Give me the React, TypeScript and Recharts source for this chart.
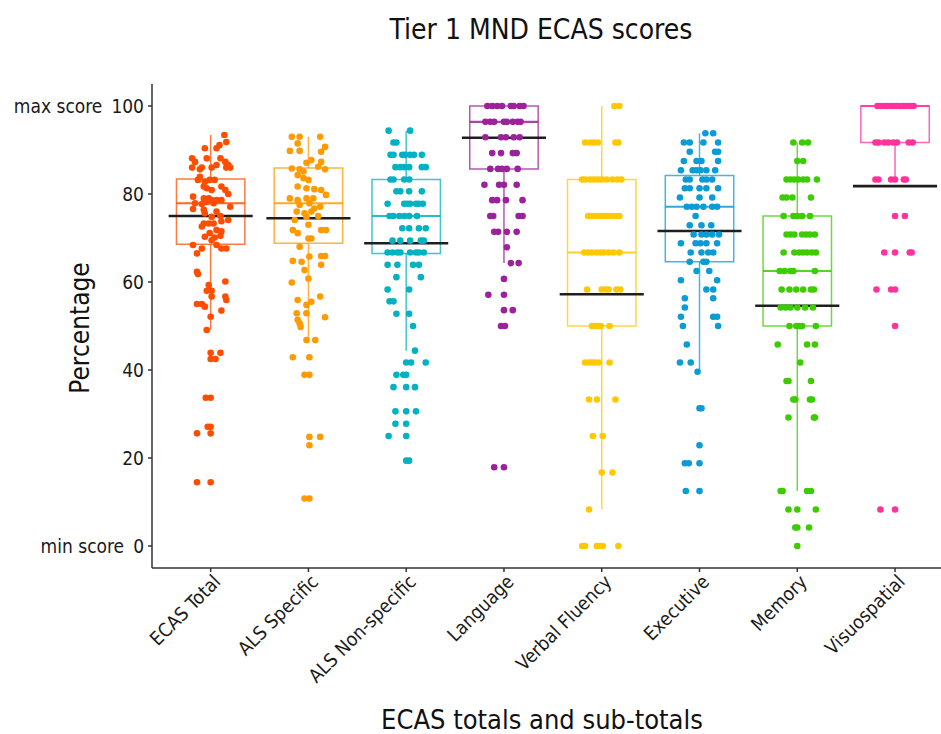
import { ComposedChart, Scatter, XAxis, YAxis, ReferenceArea, ReferenceLine } from "recharts";

const FONT = "'DejaVu Sans Condensed', 'DejaVu Sans', sans-serif";

const categories = [
  "ECAS Total",
  "ALS Specific",
  "ALS Non-specific",
  "Language",
  "Verbal Fluency",
  "Executive",
  "Memory",
  "Visuospatial",
];

const colors = ["#ff4d00", "#ff9a00", "#00b2c2", "#9b229b", "#ffc800", "#0b9bd5", "#3ccc00", "#ff3399"];

// box statistics per category
const q1 = [68.6, 68.8, 66.5, 85.7, 50.0, 64.6, 50.0, 91.7];
const medians = [77.9, 77.9, 75.0, 96.4, 66.7, 77.1, 62.5, 100];
const q3 = [83.4, 85.9, 83.3, 100, 83.3, 84.2, 75.0, 100];
const whiskerLow = [49.1, 46.8, 44.4, 64.3, 8.3, 39.6, 12.5, 83.3];
const whiskerHigh = [93.4, 93.0, 94.4, 100, 100, 93.8, 91.7, 100];
const means = [75.0, 74.5, 68.8, 92.8, 57.2, 71.6, 54.6, 81.8];

const yTicks = [0, 20, 40, 60, 80, 100];
const yTickNotes: Record<number, string> = { 100: "max score", 0: "min score" };

type Pt = [number, number]; // [jitter offset, score]
type Row = [number, number[]]; // [score, jitter offsets]

const ecasTotalPts: Pt[] = [
  [0.14, 93.4], [0.16, 91.8], [0.09, 91.1], [0.06, 90.4], [-0.06, 90.4], [-0.04, 88.1], [-0.19, 88.1],
  [-0.16, 87.3], [0.1, 88.1], [0.15, 87.3], [0.18, 86.6], [0.2, 86.0], [-0.19, 86.0], [-0.11, 85.6],
  [-0.09, 86.0], [0.01, 86.0], [0.06, 86.6], [0.16, 86.0], [-0.11, 83.9], [-0.13, 83.2], [-0.01, 83.2],
  [-0.06, 82.8], [0.04, 83.2], [-0.07, 81.7], [-0.04, 81.3], [0.01, 80.9], [0.11, 81.7], [0.15, 80.9],
  [0.18, 80.0], [-0.18, 79.4], [-0.07, 79.0], [-0.02, 79.0], [0.01, 78.6], [0.06, 78.6], [0.11, 78.6],
  [-0.16, 77.9], [-0.09, 77.7], [-0.04, 78.2], [0.03, 77.9], [0.2, 77.1], [-0.18, 76.6], [-0.07, 76.4],
  [0.06, 76.0], [-0.06, 75.6], [0.01, 74.8], [0.1, 75.0], [-0.07, 73.3], [-0.02, 73.3], [0.03, 73.3],
  [0.11, 73.8], [0.18, 74.1], [-0.09, 72.6], [0.06, 71.8], [0.11, 71.5], [-0.01, 71.1], [-0.06, 70.3],
  [0.04, 70.1], [0.1, 70.5], [0.01, 69.5], [0.06, 68.4], [0.11, 67.6], [0.16, 67.6], [-0.18, 68.4],
  [-0.09, 67.6], [-0.14, 66.5], [-0.14, 62.3], [-0.13, 61.8], [0.15, 60.1], [-0.02, 59.3], [-0.04, 58.0],
  [0.01, 58.0], [0.01, 56.7], [0.15, 56.7], [-0.14, 55.0], [-0.09, 55.0], [-0.06, 54.4], [0.16, 55.9],
  [0.11, 53.5], [0.0, 52.1], [-0.04, 49.1], [0.0, 43.9], [0.1, 43.9], [0.0, 42.5], [0.05, 42.5],
  [-0.05, 33.7], [0.0, 33.7], [-0.03, 27.1], [0.0, 27.1], [-0.14, 25.6], [0.0, 25.6], [-0.14, 14.5],
  [0.0, 14.5],
];

const alsSpecificPts: Pt[] = [
  [-0.17, 93.0], [-0.09, 93.0], [0.12, 93.0], [-0.11, 91.5], [0.17, 90.7], [-0.19, 89.8], [-0.09, 89.8],
  [0.13, 89.6], [0.03, 87.7], [-0.02, 87.1], [0.13, 87.3], [0.1, 86.2], [-0.17, 85.8], [-0.09, 85.6],
  [-0.05, 85.1], [0.17, 85.6], [-0.11, 84.3], [-0.05, 83.6], [0.0, 83.2], [-0.11, 81.7], [-0.02, 81.3],
  [0.06, 81.1], [0.13, 80.9], [0.18, 79.8], [-0.19, 79.0], [-0.11, 78.6], [-0.02, 79.0], [0.05, 79.0],
  [-0.09, 77.5], [0.01, 77.9], [0.12, 77.1], [-0.12, 76.0], [-0.04, 75.6], [0.03, 76.0], [0.06, 76.7],
  [-0.14, 74.1], [-0.02, 74.8], [0.1, 75.0], [0.0, 73.0], [-0.16, 71.8], [-0.11, 71.1], [0.13, 71.8],
  [0.18, 71.8], [0.0, 69.9], [0.03, 69.9], [-0.09, 68.0], [0.01, 65.8], [0.13, 65.9], [0.17, 65.9],
  [-0.16, 64.8], [-0.07, 64.6], [0.13, 63.9], [-0.04, 62.7], [0.0, 60.8], [-0.17, 59.9], [0.12, 56.7],
  [-0.11, 55.9], [-0.02, 54.8], [0.03, 55.5], [-0.12, 52.9], [-0.02, 52.9], [0.17, 52.0], [-0.11, 51.4],
  [-0.09, 50.6], [-0.08, 49.8], [-0.02, 46.8], [0.07, 46.8], [-0.16, 42.9], [0.01, 42.9], [-0.04, 38.9],
  [0.01, 38.9], [0.01, 24.8], [0.12, 24.8], [0.01, 22.9], [-0.04, 10.8], [0.01, 10.8],
];

const alsNonSpecificRows: Row[] = [
  [94.4, [-0.18, 0.04]],
  [91.7, [-0.13, -0.1]],
  [88.9, [-0.16, -0.13, -0.04, -0.01, 0.04, 0.08, 0.16]],
  [86.1, [-0.11, -0.06, -0.02, 0.03, 0.16, 0.2]],
  [83.3, [-0.16, -0.13, -0.02, 0.03]],
  [80.6, [-0.1, -0.06, 0.03, 0.16]],
  [77.8, [-0.19, -0.02, 0.01, 0.04, 0.1, 0.13, 0.17]],
  [75.0, [-0.17, -0.13, -0.07, -0.02, 0.03, 0.11]],
  [72.2, [-0.04, 0.03, 0.13, 0.2]],
  [69.4, [-0.14, -0.06, 0.04, 0.15, 0.18]],
  [66.7, [-0.19, -0.14, -0.09, -0.06, 0.04, 0.1, 0.13, 0.18]],
  [63.9, [-0.19, -0.09, 0.07, 0.13]],
  [61.1, [-0.1, 0.15]],
  [58.3, [-0.19, 0.03]],
  [55.6, [-0.17, -0.13]],
  [52.8, [-0.1, 0.03]],
  [50.0, [0.07]],
  [44.4, [0.09]],
  [41.7, [0.0, 0.05, 0.2]],
  [38.9, [-0.1, -0.03, 0.0]],
  [36.1, [-0.13, 0.0, 0.09]],
  [30.6, [-0.11, 0.0, 0.1]],
  [27.8, [-0.11, 0.0]],
  [25.0, [-0.18, 0.0]],
  [19.4, [0.0, 0.03]],
];

const languageRows: Row[] = [
  [100, [-0.17, -0.12, -0.07, -0.02, 0.07, 0.1, 0.16, 0.2]],
  [96.4, [-0.19, -0.14, -0.1, 0.0, 0.03, 0.09, 0.14, 0.17]],
  [92.9, [-0.19, -0.03, 0.02, 0.1, 0.16]],
  [89.3, [-0.12, -0.03, 0.09, 0.13]],
  [85.7, [-0.14, -0.06, -0.02, 0.03, 0.14]],
  [82.1, [-0.2, -0.05, 0.0, 0.13]],
  [78.6, [-0.12, -0.07, 0.02, 0.19]],
  [75.0, [-0.14, -0.11, 0.15, 0.19]],
  [71.4, [-0.1, -0.06, 0.03, 0.13]],
  [67.9, [0.03]],
  [64.3, [0.07, 0.15]],
  [60.7, [0.0]],
  [57.1, [-0.16, 0.0]],
  [53.6, [0.0, 0.09]],
  [50.0, [-0.03, 0.01]],
  [17.9, [-0.1, 0.0]],
];

const verbalFluencyRows: Row[] = [
  [100, [0.13, 0.18]],
  [91.7, [-0.17, -0.12, -0.08, -0.04, 0.14, 0.17]],
  [83.3, [-0.2, -0.17, -0.12, -0.08, -0.04, 0.0, 0.05, 0.11, 0.16, 0.2]],
  [75.0, [-0.14, -0.11, -0.07, -0.04, -0.01, 0.03, 0.06, 0.1, 0.14, 0.18]],
  [66.7, [-0.18, -0.14, -0.1, -0.05, -0.01, 0.02, 0.07, 0.12, 0.18]],
  [58.3, [-0.15, 0.0, 0.04, 0.07, 0.15, 0.19]],
  [50.0, [-0.1, -0.07, -0.04, -0.01, 0.08]],
  [41.7, [-0.17, -0.13, -0.1, -0.07, -0.03, 0.08]],
  [33.3, [-0.13, -0.05, 0.14]],
  [25.0, [-0.09, 0.01]],
  [16.7, [0.0, 0.11]],
  [8.3, [-0.13]],
  [0, [-0.2, -0.17, -0.05, -0.01, 0.01, 0.17]],
];

const executiveRows: Row[] = [
  [93.8, [0.06, 0.14]],
  [91.7, [-0.16, -0.1, 0.04, 0.19]],
  [89.6, [-0.1, 0.16, 0.19]],
  [87.5, [-0.16, -0.03, 0.02, 0.19]],
  [85.4, [-0.19, -0.07, -0.03, 0.01, 0.07, 0.16]],
  [83.3, [-0.14, -0.1, 0.03, 0.07, 0.13]],
  [81.3, [-0.15, -0.1, 0.0, 0.07, 0.19]],
  [79.2, [-0.2, 0.0, 0.13]],
  [77.1, [-0.13, -0.08, -0.03, 0.04, 0.13, 0.18]],
  [75.0, [-0.04]],
  [72.9, [-0.1, 0.02, 0.12]],
  [70.8, [-0.06, 0.02, 0.07, 0.13, 0.2]],
  [68.8, [-0.19, -0.04, 0.01, 0.07, 0.18]],
  [66.7, [-0.09, 0.02, 0.09, 0.14]],
  [64.6, [-0.1, 0.04, 0.07]],
  [62.5, [-0.03, 0.1]],
  [60.4, [-0.19, 0.18]],
  [58.3, [0.07, 0.14]],
  [56.3, [-0.15, 0.14]],
  [54.2, [-0.15]],
  [52.1, [-0.19, 0.14, 0.18]],
  [50.0, [-0.17, 0.19]],
  [45.8, [-0.13]],
  [41.7, [-0.2, -0.09]],
  [39.6, [-0.02]],
  [31.3, [0.0, 0.02]],
  [22.9, [0.0]],
  [18.8, [-0.15, -0.11, 0.0]],
  [12.5, [-0.14, 0.0]],
];

const memoryRows: Row[] = [
  [91.7, [-0.04, 0.05, 0.11]],
  [87.5, [0.0, 0.06]],
  [83.3, [-0.11, -0.07, -0.03, 0.01, 0.06, 0.1, 0.2]],
  [79.2, [-0.15, -0.11, -0.05, 0.14]],
  [75.0, [-0.14, -0.04, 0.0, 0.05, 0.13]],
  [70.8, [-0.11, -0.07, -0.03, 0.05, 0.09, 0.13, 0.18]],
  [66.7, [-0.14, -0.03, 0.02, 0.06, 0.1, 0.15, 0.19]],
  [62.5, [-0.18, -0.13, -0.07, -0.04, 0.18]],
  [58.3, [-0.16, -0.08, -0.01, 0.06, 0.14, 0.17]],
  [54.2, [-0.17, -0.12, -0.07, 0.0, 0.08, 0.16]],
  [50.0, [-0.08, -0.01, 0.02, 0.05, 0.19]],
  [45.8, [-0.2, 0.1, 0.18]],
  [41.7, [0.03]],
  [37.5, [-0.11, -0.09, 0.14]],
  [33.3, [-0.04, -0.02, 0.13, 0.15]],
  [29.2, [-0.09, 0.17, 0.18]],
  [12.5, [-0.17, -0.15, 0.1, 0.14]],
  [8.3, [-0.09, 0.0, 0.19]],
  [4.2, [-0.02, 0.0, 0.12]],
  [0, [0.0]],
];

const visuospatialRows: Row[] = [
  [100, [-0.18, -0.15, -0.11, -0.08, -0.04, -0.01, 0.02, 0.06, 0.09, 0.12, 0.16, 0.19]],
  [91.7, [-0.2, -0.17, -0.11, -0.07, -0.02, 0.02, 0.14, 0.18]],
  [83.3, [-0.2, -0.17, -0.04, 0.0, 0.09, 0.11]],
  [75.0, [0.0, 0.1]],
  [66.7, [-0.11, 0.0, 0.15, 0.17]],
  [58.3, [-0.19, -0.04, 0.0]],
  [50.0, [0.0]],
  [8.3, [-0.15, 0.0]],
];

const fromRows = (rows: Row[]): Pt[] => rows.flatMap(([v, offs]) => offs.map((dx) => [dx, v] as Pt));

const groups: Pt[][] = [
  ecasTotalPts,
  alsSpecificPts,
  fromRows(alsNonSpecificRows),
  fromRows(languageRows),
  fromRows(verbalFluencyRows),
  fromRows(executiveRows),
  fromRows(memoryRows),
  fromRows(visuospatialRows),
];

const BOX_HALF = 0.35;
const MEAN_HALF = 0.43;
const AXIS = "#333";

const YTick = ({ x, y, payload }: any) => {
  const note = yTickNotes[payload.value];
  return (
    <text x={x} y={y} dy="0.36em" textAnchor="end" fontSize={19} fill="#1a1a1a" fontFamily={FONT}>
      {note && <tspan>{note}</tspan>}
      <tspan dx={note ? 9 : 0}>{payload.value}</tspan>
    </text>
  );
};

const XTick = ({ x, y, payload }: any) => {
  const px = x + 11;
  const py = y + 9;
  return (
    <text x={px} y={py} textAnchor="end" fontSize={19} fill="#1a1a1a" fontFamily={FONT} transform={`rotate(-45 ${px} ${py})`}>
      {categories[payload.value - 1]}
    </text>
  );
};

const Dot = ({ cx, cy, fill }: any) => <circle cx={cx} cy={cy} r={3.3} fill={fill} />;

export default function App() {
  return (
    <div style={{ position: "absolute", left: 0, top: 0, width: 941, height: 734, background: "#fff", fontFamily: FONT, color: "#111", overflow: "hidden" }}>
      <div style={{ position: "absolute", left: 141, width: 800, top: 12, textAlign: "center", fontSize: 28, lineHeight: "36px" }}>
        Tier 1 MND ECAS scores
      </div>
      <div
        style={{
          position: "absolute",
          left: 80,
          top: 328,
          transform: "translate(-50%, -50%) rotate(-90deg)",
          fontSize: 26,
          whiteSpace: "nowrap",
        }}
      >
        Percentage
      </div>
      <div style={{ position: "absolute", left: 142, width: 800, top: 706, textAlign: "center", fontSize: 27, lineHeight: "28px" }}>
        ECAS totals and sub-totals
      </div>
      <ComposedChart width={941} height={734} margin={{ top: 84, right: 0, bottom: 106, left: 92 }}>
        <XAxis
          type="number"
          dataKey="x"
          domain={[0.4, 8.47]}
          ticks={[1, 2, 3, 4, 5, 6, 7, 8]}
          interval={0}
          allowDataOverflow
          height={60}
          tickSize={4}
          tickMargin={2}
          tick={<XTick />}
          axisLine={{ stroke: AXIS, strokeWidth: 1.5 }}
          tickLine={{ stroke: AXIS, strokeWidth: 1.5 }}
        />
        <YAxis
          type="number"
          dataKey="y"
          domain={[-5, 105]}
          ticks={yTicks}
          interval={0}
          allowDataOverflow
          width={60}
          tickSize={4}
          tickMargin={4}
          tick={<YTick />}
          axisLine={{ stroke: AXIS, strokeWidth: 1.5 }}
          tickLine={{ stroke: AXIS, strokeWidth: 1.5 }}
        />
        {categories.map((c, i) => (
          <ReferenceArea
            key={`box-${c}`}
            x1={i + 1 - BOX_HALF}
            x2={i + 1 + BOX_HALF}
            y1={q1[i]}
            y2={q3[i]}
            fill="none"
            fillOpacity={0}
            stroke={colors[i]}
            strokeOpacity={0.75}
            strokeWidth={1.5}
          />
        ))}
        {categories.map((c, i) => (
          <ReferenceLine
            key={`wlo-${c}`}
            segment={[{ x: i + 1, y: whiskerLow[i] }, { x: i + 1, y: q1[i] }]}
            stroke={colors[i]}
            strokeOpacity={0.75}
            strokeWidth={1.5}
          />
        ))}
        {categories.map((c, i) => (
          <ReferenceLine
            key={`whi-${c}`}
            segment={[{ x: i + 1, y: q3[i] }, { x: i + 1, y: whiskerHigh[i] }]}
            stroke={colors[i]}
            strokeOpacity={0.75}
            strokeWidth={1.5}
          />
        ))}
        {categories.map((c, i) => (
          <ReferenceLine
            key={`med-${c}`}
            segment={[{ x: i + 1 - BOX_HALF, y: medians[i] }, { x: i + 1 + BOX_HALF, y: medians[i] }]}
            stroke={colors[i]}
            strokeOpacity={0.85}
            strokeWidth={2.2}
          />
        ))}
        {groups.map((pts, i) => (
          <Scatter
            key={`pts-${categories[i]}`}
            data={pts.map(([dx, v]) => ({ x: i + 1 + dx, y: v }))}
            fill={colors[i]}
            shape={<Dot />}
            isAnimationActive={false}
          />
        ))}
        {categories.map((c, i) => (
          <ReferenceLine
            key={`mean-${c}`}
            segment={[{ x: i + 1 - MEAN_HALF, y: means[i] }, { x: i + 1 + MEAN_HALF, y: means[i] }]}
            stroke="#1e1e1e"
            strokeWidth={2.6}
          />
        ))}
      </ComposedChart>
    </div>
  );
}
